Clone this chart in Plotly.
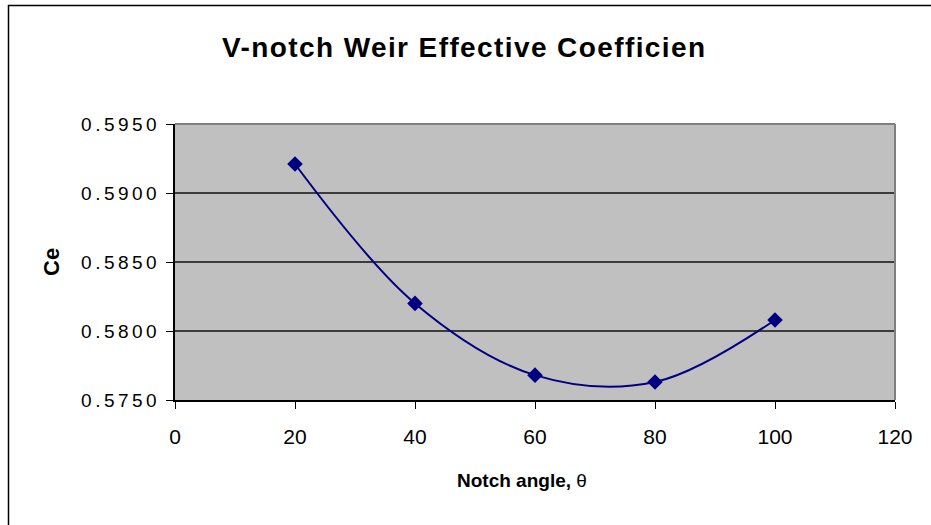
import plotly.graph_objects as go

# Data
notch_angle = [20, 40, 60, 80, 100]
ce_values = [0.5921, 0.5820, 0.5768, 0.5763, 0.5808]
x_ticks = [0, 20, 40, 60, 80, 100, 120]
y_ticks = [0.5750, 0.5800, 0.5850, 0.5900, 0.5950]
y_tick_labels = ["0.5750", "0.5800", "0.5850", "0.5900", "0.5950"]
title_text = "V-notch Weir Effective Coefficien"
x_title = "<b>Notch angle,</b> θ"
y_title = "<b>Ce</b>"

W, H = 931, 525
L, R, T, B = 175, 36, 124, 125
pw, ph = W - L - R, H - T - B

def px_x(p):
    return (p - L) / pw

def px_y(p):
    return (H - B - p) / ph

FONT = "Liberation Sans, Arial, sans-serif"

fig = go.Figure()
fig.add_trace(go.Scatter(
    x=notch_angle, y=ce_values, mode="lines+markers",
    line=dict(color="#000080", width=2, shape="spline", smoothing=1),
    marker=dict(symbol="diamond", size=12, color="#000080"),
    showlegend=False,
))

fig.update_layout(
    width=W, height=H,
    margin=dict(l=L, r=R, t=T, b=B, autoexpand=False),
    paper_bgcolor="white",
    plot_bgcolor="#C0C0C0",
    font=dict(family=FONT, color="black"),
    title=dict(text="<b>" + title_text + "</b>", x=222 / W, xanchor="left",
               xref="container", y=1 - 47 / H, yanchor="middle", yref="container",
               font=dict(size=28, family=FONT, color="black")),
    xaxis=dict(range=[0, 120], tickvals=x_ticks, showgrid=False, zeroline=False,
               showline=True, linecolor="#000000", linewidth=2,
               ticks="outside", ticklen=7, tickcolor="#000000", tickwidth=1,
               tickfont=dict(size=21, family=FONT), ticklabelstandoff=10),
    yaxis=dict(range=[0.5750, 0.5950], tickvals=y_ticks, ticktext=y_tick_labels,
               showgrid=True, gridcolor="#3c3c3c", gridwidth=1.5, zeroline=False,
               showline=True, linecolor="#000000", linewidth=2,
               ticks="outside", ticklen=7, tickcolor="#000000", tickwidth=1,
               tickfont=dict(size=19, family=FONT), ticklabelstandoff=2),
    shapes=[
        # plot-area top/right gray frame
        dict(type="line", xref="paper", yref="paper", x0=0, x1=1, y0=1, y1=1,
             line=dict(color="#808080", width=2)),
        dict(type="line", xref="paper", yref="paper", x0=1, x1=1, y0=0, y1=1,
             line=dict(color="#808080", width=2)),
        # outer chart border
        dict(type="rect", xref="paper", yref="paper",
             x0=px_x(8.5), x1=px_x(W + 20), y0=px_y(H + 20), y1=px_y(5.5),
             line=dict(color="#000000", width=1.5), fillcolor="rgba(0,0,0,0)"),
    ],
    annotations=[
        dict(text=x_title, xref="paper", yref="paper", x=px_x(455), y=px_y(480),
             xanchor="left", yanchor="middle", showarrow=False,
             font=dict(size=19, family=FONT, color="black")),
        dict(text=y_title, xref="paper", yref="paper", x=px_x(51), y=px_y(262),
             xanchor="center", yanchor="middle", showarrow=False, textangle=-90,
             font=dict(size=22, family=FONT, color="black")),
    ],
)

post = ("document.body.style.margin='0';"
        "document.querySelectorAll('.ytick text').forEach(function(t){"
        "t.style.letterSpacing='3.5px';});"
        "document.querySelectorAll('.gtitle').forEach(function(t){"
        "t.style.letterSpacing='1.4px';});")
fig.write_html("out.html", post_script=post, config={"displayModeBar": False})
